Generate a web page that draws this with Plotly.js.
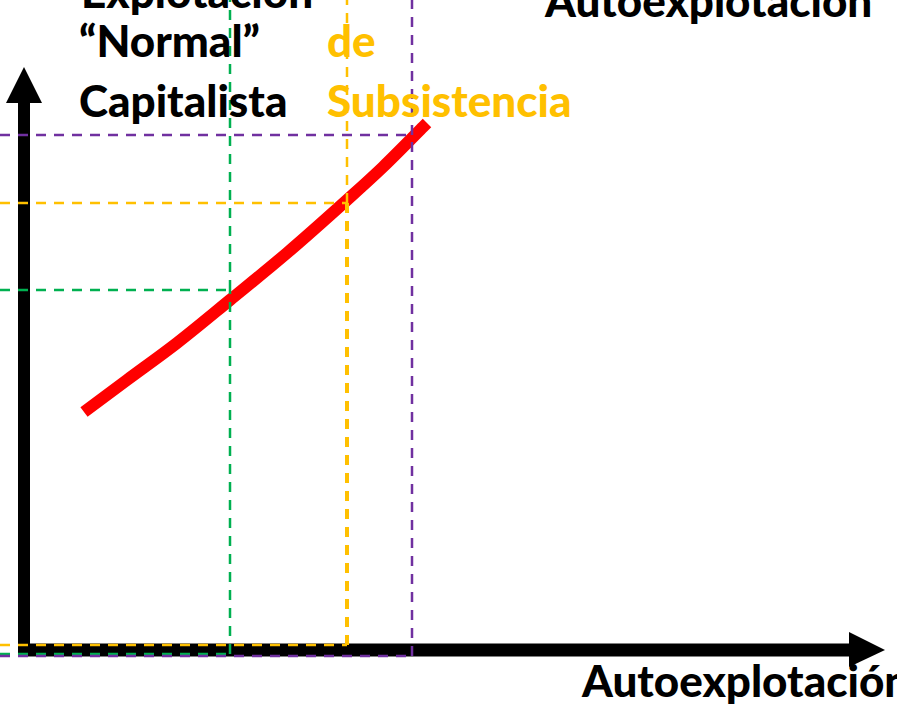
<!DOCTYPE html>
<html>
<head>
<meta charset="utf-8">
<script src="https://cdn.plot.ly/plotly-3.0.1.min.js"></script>
<style>
  html, body { margin: 0; padding: 0; background: #fff; }
  #chart { width: 897px; height: 705px; }
</style>
</head>
<body>
<div id="chart"></div>
<script>
// red curve (effort vs. exploitation)
const curveX = [0.60, 1.03, 1.53, 2.06, 2.63, 3.23, 3.59, 3.99, 4.03];
const curveY = [2.38, 2.70, 3.07, 3.50, 3.97, 4.50, 4.83, 5.23, 5.27];

// reference levels: green, yellow, purple
const levelX = [2.06, 3.23, 3.88];
const levelY = [3.60, 4.47, 5.15];
const levelBase = [-0.04, 0.05, -0.06];
const levelColors = ['#00B050', '#FFC000', '#7030A0'];

const FONT = 'Lato, "Open Sans", sans-serif';
const X0 = -0.24, X1 = 8.73, Y0 = -0.55, Y1 = 6.5;
const W = 897, H = 705;

const shapes = [];

// axes with arrowheads
shapes.push({ type: 'line', x0: 0, x1: 0, y0: -0.06, y1: 5.5, line: { color: '#000', width: 12 } });
shapes.push({ type: 'path', path: 'M -0.18,5.47 L 0.18,5.47 L 0,5.83 Z', fillcolor: '#000', line: { width: 0 } });
shapes.push({ type: 'line', x0: -0.06, x1: 8.3, y0: 0, y1: 0, line: { color: '#000', width: 13 } });
shapes.push({ type: 'path', path: 'M 8.25,0.18 L 8.25,-0.17 L 8.61,0 Z', fillcolor: '#000', line: { width: 0 } });

// dashed guides
levelX.forEach((lx, i) => {
  const c = levelColors[i];
  const dash = '10px,8px';
  shapes.push({ type: 'line', x0: X0, x1: lx, y0: levelY[i], y1: levelY[i], line: { color: c, width: 2.5, dash } });
  shapes.push({ type: 'line', x0: X0, x1: lx, y0: levelBase[i], y1: levelBase[i], line: { color: c, width: 2.5, dash } });
  const thick = i === 1 ? 4 : 2.5;
  shapes.push({ type: 'line', x0: lx, x1: lx, y0: levelY[i], y1: Y1 + 0.1, line: { color: c, width: 2.5, dash } });
  shapes.push({ type: 'line', x0: lx, x1: lx, y0: levelBase[i], y1: levelY[i], line: { color: c, width: thick, dash } });
});

// text placed in page pixels (left edge, vertical centre)
const txt = (text, px, py, color) => ({
  text: text, x: px / W, y: 1 - py / H, xref: 'paper', yref: 'paper',
  xanchor: 'left', yanchor: 'middle', showarrow: false,
  font: { family: FONT, size: 44, color, weight: 900 },
});

const annotations = [
  txt('Explotación', 79, -9, '#000'),
  txt('“Normal”', 77, 40, '#000'),
  txt('Capitalista', 77, 100, '#000'),
  txt('de', 325, 40, '#FFC000'),
  txt('Subsistencia', 325, 100, '#FFC000'),
  txt('Autoexplotación', 542, 0, '#000'),
  txt('Autoexplotación', 579, 680, '#000'),
];

const data = [{
  type: 'scatter', mode: 'lines',
  x: curveX, y: curveY,
  line: { color: '#FF0000', width: 12, shape: 'spline' },
  hoverinfo: 'skip',
}];

const layout = {
  width: W, height: H,
  margin: { l: 0, r: 0, t: 0, b: 0 },
  paper_bgcolor: '#fff', plot_bgcolor: '#fff',
  showlegend: false,
  xaxis: { range: [X0, X1], visible: false, fixedrange: true },
  yaxis: { range: [Y0, Y1], visible: false, fixedrange: true },
  shapes, annotations,
  hovermode: false,
};

Plotly.newPlot('chart', data, layout, { displayModeBar: false, staticPlot: true });
</script>
</body>
</html>
